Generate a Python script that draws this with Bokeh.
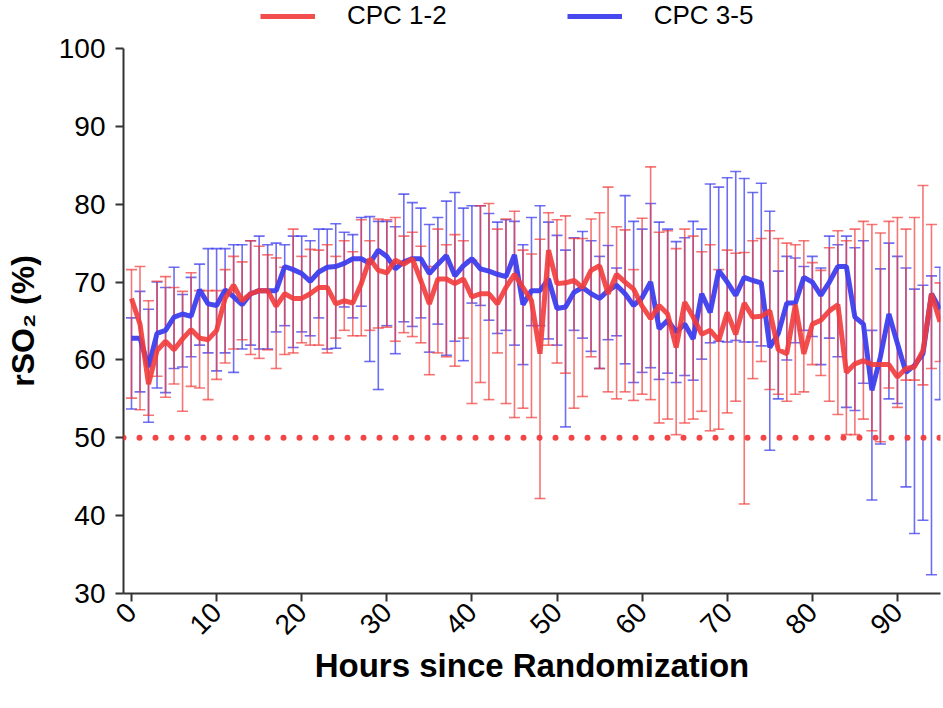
import math
from bokeh.plotting import figure
from bokeh.layouts import column
from bokeh.models import (ColumnDataSource, Whisker, TeeHead, Legend, LegendItem,
                          Range1d, FixedTicker, Span)
from bokeh.embed import file_html
from bokeh.resources import INLINE

# ---------------- data ----------------
hours = list(range(96))

red_mean = [67.9, 64.6, 56.9, 61.2, 62.4, 61.3, 62.7, 63.9, 62.8, 62.6,
            63.8, 67.9, 69.6, 67.6, 68.5, 68.9, 68.9, 66.9, 68.5, 67.9,
            67.9, 68.5, 69.3, 69.3, 67.2, 67.6, 67.3, 69.8, 73.0, 71.5,
            71.2, 72.8, 72.3, 73.0, 70.2, 67.2, 70.4, 70.4, 69.8, 70.4,
            68.1, 68.5, 68.5, 67.2, 69.3, 71.0, 69.3, 67.6, 60.8, 74.1,
            69.8, 69.9, 70.2, 69.3, 71.5, 72.1, 68.5, 71.0, 70.0, 69.1,
            66.9, 65.3, 67.0, 65.9, 61.6, 67.4, 65.5, 63.3, 63.8, 62.5,
            66.1, 63.3, 67.3, 65.5, 65.6, 66.3, 61.3, 60.8, 67.1, 60.8,
            64.6, 65.1, 66.3, 67.1, 58.4, 59.5, 59.9, 59.4, 59.4, 59.4,
            57.8, 58.9, 59.1, 61.2, 68.5, 64.9]

red_upper = [71.6, 72.0, 67.6, 70.1, 70.7, 69.3, 68.8, 71.2, 68.9, 68.9,
             68.9, 71.6, 73.3, 72.6, 75.3, 74.6, 73.5, 73.1, 71.9, 76.8,
             73.3, 74.2, 74.1, 74.8, 73.3, 75.3, 73.9, 78.0, 75.3, 78.1,
             78.0, 78.3, 75.9, 76.4, 74.6, 72.0, 76.8, 74.8, 76.1, 75.3,
             72.8, 79.8, 80.1, 76.8, 78.1, 79.1, 74.1, 73.6, 75.5, 78.9,
             78.0, 78.5, 75.6, 75.6, 78.1, 78.9, 82.2, 77.1, 76.7, 71.6,
             78.2, 84.8, 76.4, 76.6, 74.3, 76.8, 75.9, 73.9, 74.8, 71.6,
             74.1, 73.7, 73.8, 75.3, 75.6, 76.6, 75.6, 75.0, 74.8, 75.3,
             72.5, 71.5, 74.4, 76.6, 75.3, 76.8, 77.8, 77.4, 76.3, 77.8,
             78.3, 76.8, 78.3, 82.4, 77.4, 69.9]

red_lower = [55.1, 53.6, 52.9, 57.9, 55.2, 56.9, 53.4, 56.6, 56.4, 54.9,
             57.5, 59.6, 61.4, 62.6, 60.7, 60.2, 61.3, 58.9, 60.7, 60.9,
             62.2, 61.9, 61.9, 60.9, 62.8, 63.8, 63.1, 63.1, 63.8, 64.1,
             64.2, 62.4, 63.5, 63.0, 62.2, 58.1, 60.9, 60.4, 59.2, 62.8,
             54.4, 57.1, 54.9, 60.9, 54.4, 52.6, 53.8, 52.6, 42.2, 61.9,
             59.6, 58.3, 53.8, 55.3, 60.4, 58.9, 55.9, 55.0, 55.9, 54.8,
             55.6, 54.9, 51.9, 52.4, 50.4, 51.9, 52.4, 53.4, 50.9, 51.1,
             53.2, 54.7, 41.5, 57.6, 59.8, 56.2, 55.6, 54.7, 55.6, 55.9,
             59.4, 58.0, 54.7, 53.0, 50.4, 50.4, 52.4, 50.9, 49.5, 56.4,
             53.9, 57.4, 57.4, 56.8, 58.9, 59.8]

blue_mean = [62.8, 62.8, 59.1, 63.4, 63.8, 65.5, 65.9, 65.6, 69.0, 67.2,
             67.0, 69.0, 68.1, 67.1, 68.5, 68.9, 68.9, 68.9, 72.0, 71.6,
             71.1, 70.1, 71.3, 71.9, 72.0, 72.4, 73.0, 73.0, 72.4, 74.1,
             73.3, 71.7, 72.6, 73.0, 73.0, 71.1, 72.3, 73.4, 70.8, 72.1,
             73.0, 71.7, 71.4, 71.0, 70.7, 73.5, 67.1, 68.9, 68.9, 70.4,
             66.6, 66.8, 68.7, 69.3, 68.5, 67.9, 68.9, 69.6, 68.5, 67.0,
             68.0, 70.0, 64.0, 65.1, 63.6, 64.6, 62.7, 68.5, 66.1, 71.5,
             70.0, 68.3, 70.6, 70.2, 69.9, 61.6, 63.4, 67.3, 67.3, 70.6,
             70.0, 68.3, 70.0, 72.0, 72.0, 65.5, 64.6, 56.1, 60.4, 65.9,
             62.1, 58.4, 59.3, 60.8, 68.5, 66.5]

blue_upper = [65.4, 68.8, 66.5, 70.0, 69.3, 71.9, 68.4, 70.6, 72.3, 74.3,
              74.3, 74.3, 74.8, 74.8, 75.3, 75.9, 74.8, 75.0, 74.8, 75.9,
              75.9, 75.3, 76.8, 76.8, 77.5, 76.4, 76.1, 78.3, 78.4, 77.8,
              77.8, 77.1, 81.3, 80.2, 79.5, 77.4, 78.3, 80.4, 81.5, 79.5,
              79.8, 79.8, 78.8, 77.7, 78.0, 77.8, 74.8, 78.3, 79.8, 77.7,
              76.0, 74.1, 75.7, 76.5, 75.3, 73.3, 74.7, 71.8, 81.1, 77.8,
              76.8, 80.1, 77.7, 76.8, 75.2, 75.7, 77.8, 76.8, 82.6, 82.2,
              83.4, 84.2, 83.3, 81.5, 82.7, 79.1, 71.4, 73.3, 73.1, 72.0,
              73.3, 71.8, 75.9, 74.8, 75.9, 74.4, 75.3, 63.8, 71.7, 75.0,
              73.3, 71.8, 69.1, 69.6, 70.8, 71.9]

blue_lower = [53.7, 55.9, 52.0, 56.4, 55.8, 58.9, 59.1, 60.4, 61.9, 60.9,
              58.6, 60.9, 58.4, 61.4, 61.9, 61.4, 61.4, 63.6, 64.4, 61.6,
              63.6, 63.1, 65.4, 61.4, 61.5, 66.8, 65.4, 66.9, 59.8, 56.2,
              64.4, 60.8, 64.9, 64.3, 65.4, 61.0, 64.6, 60.6, 62.4, 59.9,
              67.3, 67.0, 65.1, 63.4, 63.8, 61.9, 59.4, 64.4, 64.4, 62.7,
              61.9, 51.4, 63.8, 62.8, 61.1, 58.9, 62.6, 63.1, 59.5, 57.1,
              58.4, 59.0, 57.5, 58.3, 57.1, 58.0, 57.4, 60.1, 62.2, 62.4,
              62.3, 62.5, 62.3, 62.3, 61.8, 48.4, 55.0, 60.0, 62.2, 63.8,
              63.0, 59.4, 62.8, 60.4, 53.9, 53.5, 57.0, 42.0, 49.2, 55.0,
              54.4, 43.7, 37.7, 39.4, 32.4, 54.9]

x_ticks = [0, 10, 20, 30, 40, 50, 60, 70, 80, 90]
y_ticks = [30, 40, 50, 60, 70, 80, 90, 100]
threshold = 50
series_names = ["CPC 1-2", "CPC 3-5"]

RED = "#F23B3B"
BLUE = "#3E3EEE"
FONT = "Liberation Sans"

src_r = ColumnDataSource(dict(x=hours, m=red_mean, up=red_upper, lo=red_lower))
src_b = ColumnDataSource(dict(x=hours, m=blue_mean, up=blue_upper, lo=blue_lower))

# ---------------- legend strip (top) ----------------
# same series drawn in a strip whose y-range hides them; only their legend shows
top = figure(width=943, height=31, output_backend="svg", toolbar_location=None,
             x_range=Range1d(-0.94, 95.06), y_range=Range1d(0, 1),
             x_axis_location=None, y_axis_location=None, min_border=0)
top.outline_line_color = None
top.xgrid.visible = False
top.ygrid.visible = False
lg_red = top.line("x", "m", source=src_r, line_color=RED, line_width=5, line_alpha=0.9)
lg_blue = top.line("x", "m", source=src_b, line_color=BLUE, line_width=5, line_alpha=0.95)
legend = Legend(items=[LegendItem(label=series_names[0], renderers=[lg_red]),
                       LegendItem(label=series_names[1], renderers=[lg_blue])],
                orientation="horizontal", location=(137, 0),
                padding=0, margin=0, spacing=120, label_standoff=32,
                glyph_width=55, glyph_height=28, label_height=28,
                border_line_color=None, background_fill_alpha=0,
                label_text_font=FONT, label_text_font_size="26px",
                label_text_color="black")
top.add_layout(legend)

# ---------------- main figure ----------------
p = figure(width=943, height=677, output_backend="svg", toolbar_location=None,
           x_range=Range1d(-0.94, 95.06), y_range=Range1d(30, 100),
           min_border_left=123, min_border_right=3, min_border_top=17,
           min_border_bottom=115)
p.outline_line_color = None
p.xgrid.visible = False
p.ygrid.visible = False

for ax in (p.xaxis[0], p.yaxis[0]):
    ax.axis_line_color = "#333333"
    ax.axis_line_width = 2
    ax.major_tick_line_color = "#333333"
    ax.major_tick_line_width = 2
    ax.major_tick_out = 8
    ax.major_tick_in = 0
    ax.minor_tick_line_color = None
    ax.major_label_text_font = FONT
    ax.major_label_text_font_size = "28px"
    ax.major_label_text_color = "black"
    ax.axis_label_text_font = FONT
    ax.axis_label_text_font_style = "bold"
    ax.axis_label_text_color = "black"

p.xaxis.axis_label_text_font_size = "33px"
p.yaxis.axis_label_text_font_size = "32px"
p.xaxis.ticker = FixedTicker(ticks=x_ticks)
p.yaxis.ticker = FixedTicker(ticks=y_ticks)
p.xaxis.major_label_orientation = math.pi / 4
p.xaxis.axis_label = "Hours since Randomization"
p.yaxis.axis_label = "rSO\u2082 (%)"
p.xaxis.major_label_standoff = 6
p.yaxis.major_label_standoff = 10
p.xaxis.axis_label_standoff = 1
p.yaxis.axis_label_standoff = 15

# threshold dotted line
p.add_layout(Span(location=threshold, dimension="width", line_color=RED,
                  line_width=6, line_dash="0 16", line_cap="round", line_alpha=0.95))

def add_whisker(src, color, alpha):
    w = Whisker(source=src, base="x", upper="up", lower="lo",
                line_color=color, line_width=1.6, line_alpha=alpha,
                upper_head=TeeHead(size=11, line_color=color, line_width=1.6, line_alpha=alpha),
                lower_head=TeeHead(size=11, line_color=color, line_width=1.6, line_alpha=alpha))
    p.add_layout(w)

p.line("x", "m", source=src_b, line_color=BLUE, line_width=5, line_alpha=0.95)
p.line("x", "m", source=src_r, line_color=RED, line_width=5, line_alpha=0.9)
add_whisker(src_b, BLUE, 0.75)
add_whisker(src_r, RED, 0.7)

layout = column(top, p, spacing=0)
open("out.html", "w").write(file_html(layout, INLINE))
